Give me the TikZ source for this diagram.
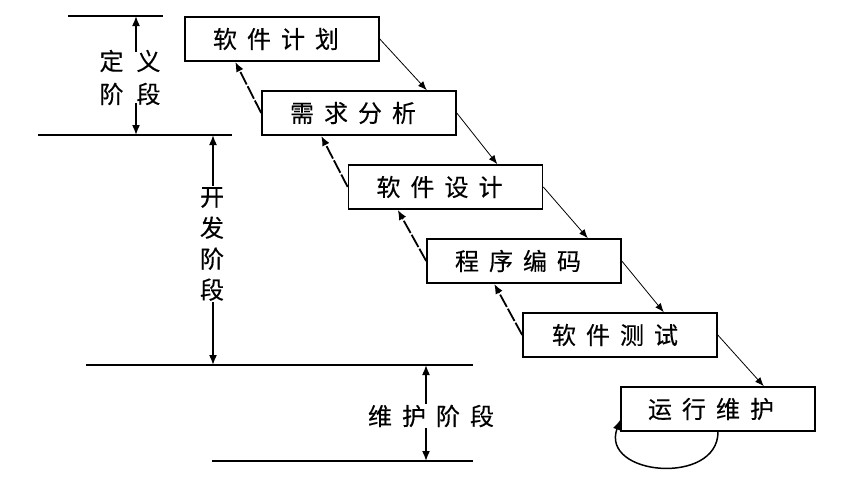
\documentclass[tikz,border=0pt]{standalone}
\usepackage{fontspec}
\newfontfamily\cjk[FakeBold=0.3]{Noto Sans CJK SC}
\usetikzlibrary{arrows.meta,calc}
\newcommand\gp{\kern10pt}
\begin{document}
\begin{tikzpicture}[x=1pt,y=-1pt,
  stagebox/.style={draw,line width=1.6pt,minimum width=194pt,minimum height=44pt,inner sep=0pt,font=\cjk\fontsize{24}{28}\selectfont},
  fwd/.style={line width=0.8pt,-{Latex[length=9pt,width=7pt]}},
  back/.style={line width=1.8pt,dash pattern=on 14pt off 2pt,-{Latex[length=10pt,width=8pt]}},
  tipped/.style={line width=1.6pt,-{Latex[length=10pt,width=8pt]}},
  phase/.style={line width=1.6pt,{Latex[length=10pt,width=8pt]}-{Latex[length=10pt,width=8pt]}},
  hline/.style={line width=1.8pt},
  lbl/.style={fill=white,inner sep=1pt,font=\cjk\fontsize{24}{28}\selectfont},
  plain/.style={inner sep=0pt,font=\cjk\fontsize{24}{28}\selectfont}]
\useasboundingbox (0,0) rectangle (854,480);
% boxes
\node[stagebox] (b1) at (282,39) {软\gp 件\gp 计\gp 划\kern12pt};
\node[stagebox] (b2) at (359,113) {需\gp 求\gp 分\gp 析\kern12pt};
\node[stagebox] (b3) at (445.5,187) {软\gp 件\gp 设\gp 计\kern12pt};
\node[stagebox] (b4) at (524,261) {程\gp 序\gp 编\gp 码\kern12pt};
\node[stagebox] (b5) at (620,335) {软\gp 件\gp 测\gp 试\kern10pt};
\node[stagebox] (b6) at (718,409) {运\gp 行\gp 维\gp 护\kern14pt};
% forward arrows
\draw[fwd] (b1.east) -- ($(b2.north east)+(-30,0)$);
\draw[fwd] (b2.east) -- ($(b3.north east)+(-46,0)$);
\draw[fwd] (b3.east) -- ($(b4.north east)+(-34,0)$);
\draw[fwd] (b4.east) -- ($(b5.north east)+(-54,0)$);
\draw[fwd] (b5.east) -- ($(b6.north east)+(-52,0)$);
% backward arrows
\draw[back] (b2.west) -- ($(b1.south west)+(51,0)$);
\draw[back] (b3.west) -- ($(b2.south west)+(60,0)$);
\draw[back] (b4.west) -- ($(b3.south west)+(50,0)$);
\draw[back] (b5.west) -- ($(b4.south west)+(68,0)$);
% loop
\draw[line width=1.5pt,-{Latex[length=10pt,width=8pt]}] (b6.south) .. controls (718,486) and (600,476) .. ($(b6.south west)+(0,-12)$);
% phase lines
\coordinate (h1a) at (68,16);  \coordinate (h1b) at (163,16);
\coordinate (h2a) at (38,135); \coordinate (h2b) at (232,135);
\coordinate (h3a) at (86,365); \coordinate (h3b) at (473,365);
\coordinate (h4a) at (212,461);\coordinate (h4b) at (473,461);
\draw[hline] (h1a) -- (h1b);
\draw[hline] (h2a) -- (h2b);
\draw[hline] (h3a) -- (h3b);
\draw[hline] (h4a) -- (h4b);
% definition phase: arrow split around its label
\coordinate (p1a) at (136,16);  \coordinate (p1m) at (136,52);
\coordinate (p1n) at (136,103); \coordinate (p1b) at (136,135);
\draw[tipped] (p1m) -- (p1a);
\draw[tipped] (p1n) -- (p1b);
\coordinate (p2a) at (213,135); \coordinate (p2b) at (213,365);
\coordinate (p3a) at (426,365); \coordinate (p3b) at (426,461);
\draw[phase] (p2a) -- (p2b);
\draw[phase] (p3a) -- (p3b);
% phase labels
\node[plain] (l1a) at (130,61) {定\kern13pt义};
\node[plain] (l1b) at (130,94) {阶\kern13pt段};
\node[lbl,align=center] (l2) at (212,244) {开\\[3pt]发\\[3pt]阶\\[3pt]段};
\node[lbl] (l3) at (431,416) {维\kern10pt护\kern10pt阶\kern10pt段};
\end{tikzpicture}
\end{document}
